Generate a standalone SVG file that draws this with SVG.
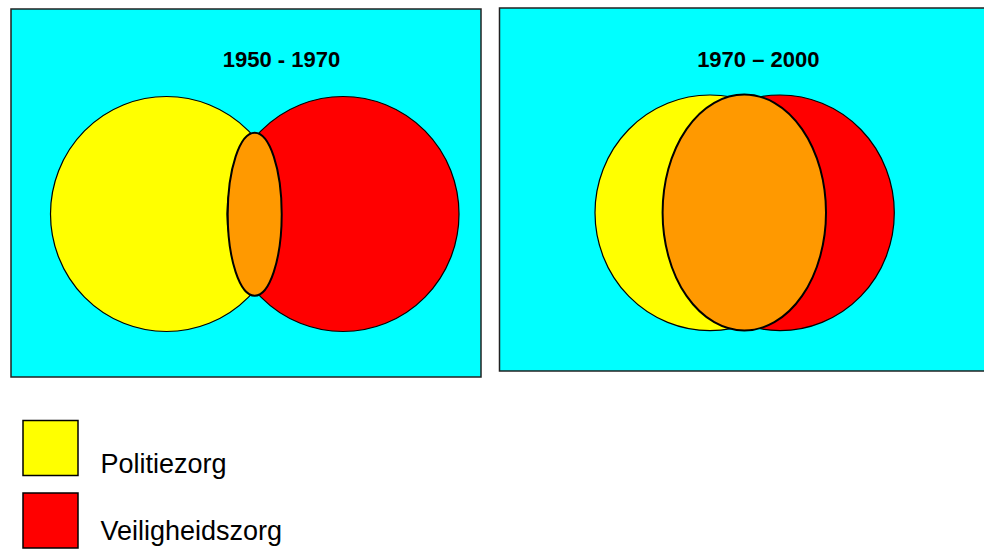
<svg xmlns="http://www.w3.org/2000/svg" width="984" height="549" viewBox="0 0 984 549">
<style>
.panel{fill:#00FFFF;stroke:#222;stroke-width:1.5}
.pol{fill:#FFFF00;stroke:#000;stroke-width:1.2}
.vei{fill:#FF0000;stroke:#000;stroke-width:1.2}
.ov{fill:#FF9900;stroke:#000;stroke-width:2}
.title{font-family:"Liberation Sans",Arial,sans-serif;font-weight:bold;font-size:22px;text-anchor:middle;fill:#000}
.leg{font-family:"Liberation Sans",Arial,sans-serif;font-size:27px;fill:#000}
.sw{stroke:#000;stroke-width:1.5}
</style>
<rect width="984" height="549" fill="#fff"/>
<g id="panel-1950-1970">
<rect class="panel" x="11" y="9" width="470" height="368"/>
<text class="title" x="281.5" y="66.5">1950 - 1970</text>
<ellipse class="pol" cx="166.5" cy="214" rx="116" ry="117.5"/>
<ellipse class="vei" cx="343" cy="214" rx="116" ry="117.5"/>
<ellipse class="ov" cx="254.7" cy="214.2" rx="27" ry="81.5"/>
</g>
<g id="panel-1970-2000">
<rect class="panel" x="499.5" y="8" width="490" height="363"/>
<text class="title" x="758.3" y="66.5">1970 – 2000</text>
<ellipse class="pol" cx="710" cy="212.8" rx="115" ry="117.8"/>
<ellipse class="vei" cx="780" cy="212.8" rx="114.3" ry="117.8"/>
<ellipse class="ov" cx="744.3" cy="212.5" rx="81.7" ry="118"/>
</g>
<g id="legend-politiezorg">
<rect class="sw" x="23" y="420.5" width="55" height="55" fill="#FFFF00"/>
<text class="leg" x="100.5" y="472.7">Politiezorg</text>
</g>
<g id="legend-veiligheidszorg">
<rect class="sw" x="23" y="493" width="55" height="55" fill="#FF0000"/>
<text class="leg" x="100.5" y="540">Veiligheidszorg</text>
</g>
</svg>
